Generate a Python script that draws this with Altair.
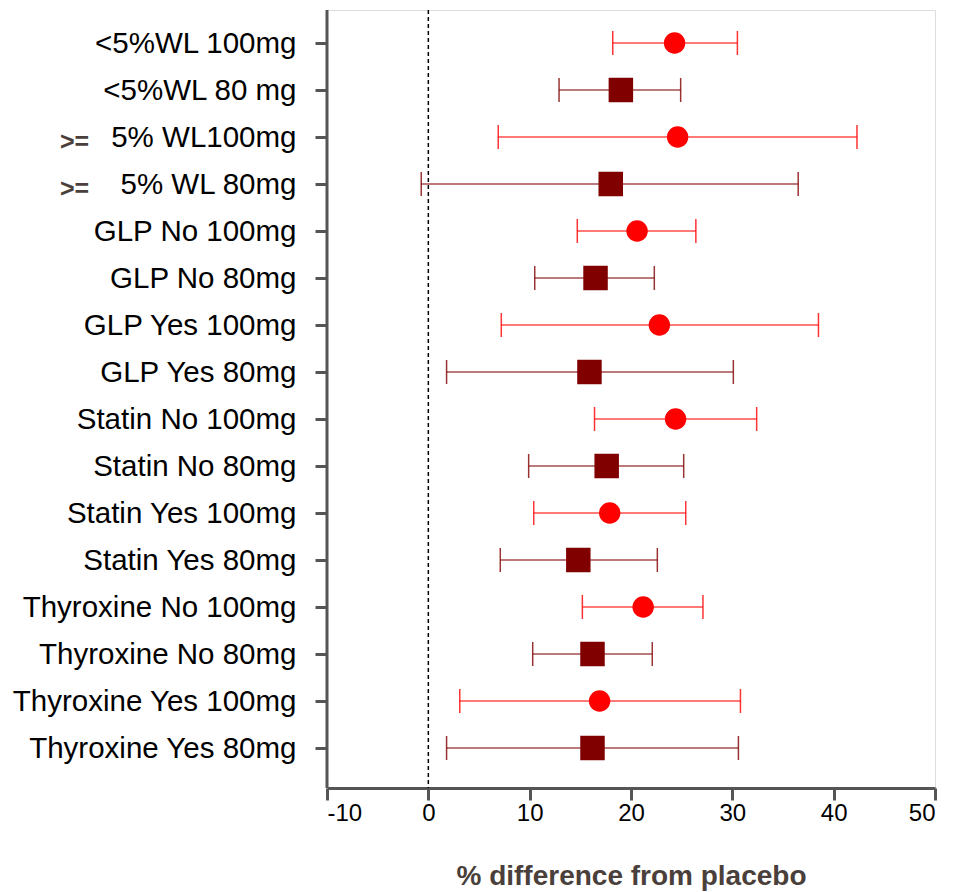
import altair as alt
import pandas as pd

labels = ["<5%WL 100mg", "<5%WL 80 mg", "5% WL100mg", "5% WL 80mg",
          "GLP No 100mg", "GLP No 80mg", "GLP Yes 100mg", "GLP Yes 80mg",
          "Statin No 100mg", "Statin No 80mg", "Statin Yes 100mg", "Statin Yes 80mg",
          "Thyroxine No 100mg", "Thyroxine No 80mg", "Thyroxine Yes 100mg", "Thyroxine Yes 80mg"]
prefix = ["", "", ">=", ">=", "", "", "", "", "", "", "", "", "", "", "", ""]
dose = ["100mg", "80mg"] * 8
est = [24.3, 19.0, 24.6, 18.0, 20.6, 16.5, 22.8, 15.9, 24.4, 17.6, 17.9, 14.8, 21.2, 16.2, 16.9, 16.2]
lo = [18.2, 12.9, 6.9, -0.7, 14.7, 10.5, 7.2, 1.8, 16.4, 9.9, 10.4, 7.1, 15.2, 10.3, 3.1, 1.8]
hi = [30.5, 24.9, 42.3, 36.5, 26.4, 22.3, 38.5, 30.1, 32.4, 25.2, 25.4, 22.6, 27.1, 22.1, 30.8, 30.6]
x_ticks = [-10, 0, 10, 20, 30, 40, 50]

df = pd.DataFrame({"label": labels, "prefix": prefix, "dose": dose,
                   "est": est, "lo": lo, "hi": hi})

FONT = "Liberation Sans"
AXIS_GRAY = "#555555"

color_scale = alt.Scale(domain=["100mg", "80mg"], range=["#ff0000", "#800000"])
shape_scale = alt.Scale(domain=["100mg", "80mg"], range=["circle", "square"])
size_scale = alt.Scale(domain=["100mg", "80mg"], range=[460, 600])

y_enc = alt.Y(
    "label:N", sort=labels,
    scale=alt.Scale(type="point", range=[33, 738], padding=0),
    axis=alt.Axis(title=None, domain=False, ticks=True, tickSize=12, tickWidth=3,
                  tickColor=AXIS_GRAY, labelFont=FONT, labelFontSize=29.5,
                  labelColor="#000000", labelPadding=19, labelLimit=0, grid=False),
)
x_scale = alt.Scale(domain=[-10, 50], nice=False, zero=False)
x_axis = alt.Axis(values=x_ticks, title="% difference from placebo", grid=False,
                  labelExpr="'' + datum.value",
                  domainColor=AXIS_GRAY, domainWidth=3, tickColor=AXIS_GRAY,
                  tickWidth=3, tickSize=12, labelFont=FONT, labelFontSize=24,
                  labelColor="#000000", labelPadding=1, titleFont=FONT,
                  titleFontSize=28, titleFontWeight="bold", titleColor="#4a3f3b",
                  titlePadding=37)

base = alt.Chart(df)

whisk = base.mark_rule(strokeWidth=1.5, opacity=0.7).encode(
    x=alt.X("lo:Q", scale=x_scale, axis=x_axis),
    x2="hi:Q",
    y=y_enc,
    color=alt.Color("dose:N", scale=color_scale, legend=None),
)
cap_lo = base.mark_tick(orient="vertical", size=24, thickness=1.5, opacity=0.8).encode(
    x="lo:Q", y=y_enc, color=alt.Color("dose:N", scale=color_scale, legend=None))
cap_hi = base.mark_tick(orient="vertical", size=24, thickness=1.5, opacity=0.8).encode(
    x="hi:Q", y=y_enc, color=alt.Color("dose:N", scale=color_scale, legend=None))

zero = alt.Chart(pd.DataFrame({"z": [0]})).mark_rule(
    color="#000000", strokeDash=[4, 3], strokeWidth=1.5).encode(x=alt.X("z:Q"))
yline = alt.Chart(pd.DataFrame({"z": [-10]})).mark_rule(
    color=AXIS_GRAY, strokeWidth=3).encode(x=alt.X("z:Q"))

pts = base.mark_point(filled=True, opacity=1).encode(
    x="est:Q", y=y_enc,
    color=alt.Color("dose:N", scale=color_scale, legend=None),
    shape=alt.Shape("dose:N", scale=shape_scale, legend=None),
    size=alt.Size("dose:N", scale=size_scale, legend=None),
)

pre = base.transform_filter("datum.prefix != ''").mark_text(
    align="left", baseline="middle", font=FONT, fontSize=25, fontWeight="bold",
    color="#4a3f3b", dy=5).encode(
    x=alt.value(-267), y=y_enc, text="prefix:N")

chart = alt.layer(zero, whisk, cap_lo, cap_hi, yline, pts, pre).properties(
    width=608, height=778,
    autosize=alt.AutoSizeParams(type="none"),
    padding={"left": 327, "top": 10, "right": 18, "bottom": 104},
).configure_view(stroke=None).configure(background="#ffffff")

chart.save("out.html", embed_options={"renderer": "svg", "actions": False})
